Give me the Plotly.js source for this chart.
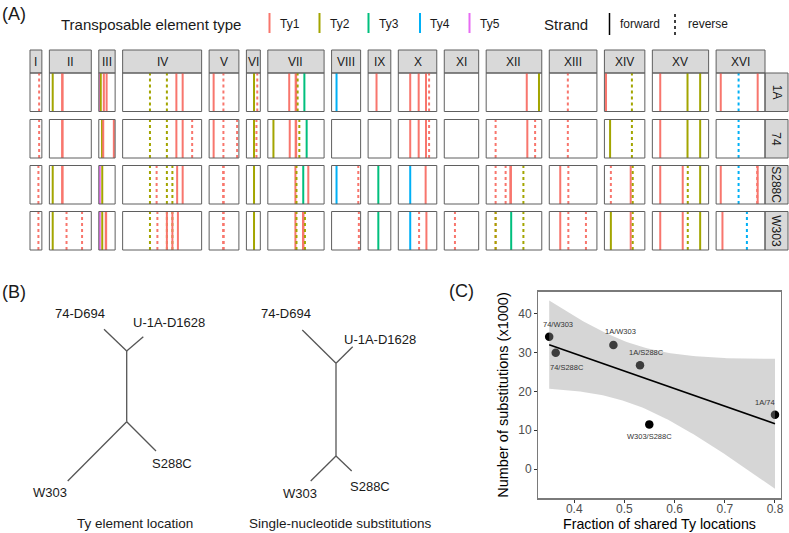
<!DOCTYPE html>
<html><head><meta charset="utf-8">
<script src="https://cdn.plot.ly/plotly-3.0.1.min.js"></script>
<style>body{margin:0;padding:0;background:#fff}#chart{width:789px;height:533px}</style>
</head><body><div id="chart"></div>
<script>
// ---------------- DATA ----------------
const chromosomes = ["I","II","III","IV","V","VI","VII","VIII","IX","X","XI","XII","XIII","XIV","XV","XVI"];
const chromLengthKb = [230,813,317,1532,577,270,1091,563,440,746,667,1078,924,784,1091,948];
const strains = ["1A","74","S288C","W303"];
const tyTypes = ["Ty1","Ty2","Ty3","Ty4","Ty5"];

// [chromosome, Ty type, strand, position (kb)]
const ty_1A = [
 ["I","Ty1","-",177],
 ["II","Ty2","+",65],["II","Ty1","+",248],["II","Ty1","+",256],
 ["III","Ty5","+",19],["III","Ty2","+",38],["III","Ty1","+",98],["III","Ty1","+",152],
 ["IV","Ty2","-",530],["IV","Ty2","-",858],["IV","Ty1","+",1042],["IV","Ty1","+",1164],
 ["V","Ty1","+",87],["V","Ty1","-",277],
 ["VI","Ty2","+",148],["VI","Ty1","-",211],
 ["VII","Ty1","+",415],["VII","Ty1","+",540],["VII","Ty1","+",550],["VII","Ty2","-",578],["VII","Ty3","+",709],
 ["VIII","Ty4","+",96],
 ["IX","Ty1","+",163],
 ["X","Ty1","+",231],["X","Ty1","+",395],["X","Ty1","+",537],["X","Ty1","-",597],
 ["XII","Ty1","+",787],["XII","Ty2","+",1024],
 ["XIII","Ty1","-",360],
 ["XIV","Ty1","+",31],["XIV","Ty2","-",533],
 ["XV","Ty1","+",153],["XV","Ty2","+",682],["XV","Ty2","+",927],
 ["XVI","Ty1","+",90],["XVI","Ty4","-",436],["XVI","Ty1","+",806]
];
const ty_74 = [
 ["I","Ty1","-",177],
 ["II","Ty1","+",248],["II","Ty1","+",256],
 ["III","Ty2","+",63],["III","Ty1","+",86],["III","Ty1","+",292],
 ["IV","Ty2","-",530],["IV","Ty2","-",858],["IV","Ty1","+",1042],["IV","Ty1","+",1164],["IV","Ty1","-",1348],
 ["V","Ty1","+",87],["V","Ty1","-",277],["V","Ty1","-",542],
 ["VI","Ty2","+",148],["VI","Ty1","-",195],
 ["VII","Ty2","+",109],["VII","Ty1","+",425],["VII","Ty1","+",540],["VII","Ty1","+",550],["VII","Ty2","-",611],["VII","Ty3","+",753],
 ["X","Ty1","+",231],["X","Ty1","+",395],["X","Ty1","+",537],["X","Ty1","-",597],
 ["XII","Ty1","-",183],["XII","Ty1","+",798],["XII","Ty1","-",949],
 ["XIII","Ty1","-",360],
 ["XIV","Ty2","+",110],["XIV","Ty2","-",533],
 ["XV","Ty1","+",153],["XV","Ty2","+",682],["XV","Ty2","+",927],
 ["XVI","Ty4","-",436]
];
const ty_S288C = [
 ["I","Ty1","-",163],
 ["II","Ty2","+",65],["II","Ty1","+",248],["II","Ty1","+",256],
 ["III","Ty5","+",19],["III","Ty2","+",67],
 ["IV","Ty2","-",530],["IV","Ty1","-",659],["IV","Ty2","-",858],["IV","Ty2","-",965],["IV","Ty1","+",1057],["IV","Ty1","+",1164],
 ["V","Ty1","-",272],["V","Ty1","-",282],
 ["VI","Ty2","+",148],
 ["VII","Ty1","+",535],["VII","Ty2","-",556],["VII","Ty3","+",687],["VII","Ty1","+",785],
 ["VIII","Ty4","+",96],["VIII","Ty1","-",518],
 ["IX","Ty3","+",198],
 ["X","Ty4","+",231],["X","Ty1","+",530],
 ["XII","Ty1","-",183],["XII","Ty1","-",377],["XII","Ty1","+",469],["XII","Ty1","+",480],["XII","Ty2","-",722],
 ["XIII","Ty1","+",213],["XIII","Ty1","-",370],
 ["XIV","Ty1","-",125],["XIV","Ty1","+",510],["XIV","Ty2","-",549],
 ["XV","Ty1","+",153],["XV","Ty1","+",589],["XV","Ty2","-",687],["XV","Ty2","+",927],
 ["XVI","Ty1","+",90],["XVI","Ty4","-",436],["XVI","Ty1","-",796],["XVI","Ty1","+",806]
];
const ty_W303 = [
 ["I","Ty1","-",163],
 ["II","Ty2","+",65],["II","Ty1","-",333],["II","Ty1","-",634],
 ["III","Ty5","+",19],["III","Ty2","+",67],["III","Ty1","+",135],["III","Ty1","+",143],
 ["IV","Ty2","-",530],["IV","Ty1","-",674],["IV","Ty1","+",858],["IV","Ty2","-",858],["IV","Ty1","+",965],["IV","Ty2","-",965],["IV","Ty1","+",1072],
 ["V","Ty1","-",272],["V","Ty1","-",282],
 ["VI","Ty2","+",148],
 ["VII","Ty1","+",535],["VII","Ty2","-",556],["VII","Ty1","+",682],["VII","Ty1","+",692],["VII","Ty2","-",720],
 ["VIII","Ty1","-",529],
 ["IX","Ty3","+",198],
 ["X","Ty4","+",231],["X","Ty1","-",403],["X","Ty1","+",545],
 ["XI","Ty1","-",207],
 ["XII","Ty1","-",183],["XII","Ty2","-",183],["XII","Ty3","+",485],["XII","Ty2","-",722],
 ["XIII","Ty1","+",213],["XIII","Ty1","-",370],["XIII","Ty1","-",711],
 ["XIV","Ty2","+",125],["XIV","Ty1","+",510],["XIV","Ty2","-",549],
 ["XV","Ty1","+",153],["XV","Ty1","+",589],["XV","Ty2","-",687],["XV","Ty2","+",927],
 ["XVI","Ty1","+",123],["XVI","Ty4","-",597]
];
const tyByStrain = [ty_1A, ty_74, ty_S288C, ty_W303];

// Panel B: unrooted trees (layout coordinates of nodes)
const treeTips = ["74-D694","U-1A-D1628","S288C","W303"];
const treeTyTipX = [104,143.3,156,67.7];
const treeTyTipY = [329.3,336.7,451,481];
const treeTyInnerX = [126.7,126.7];
const treeTyInnerY = [351,421.7];
const treeSnpTipX = [302.3,352.7,351.7,310.7];
const treeSnpTipY = [330,346.7,471,481];
const treeSnpInnerX = [336,336];
const treeSnpInnerY = [363.3,456];
// tips 0,1 attach to inner node 0; tips 2,3 attach to inner node 1
const treeTipParent = [0,0,1,1];

// Panel C
const pairLabels = ["74/W303","74/S288C","1A/W303","1A/S288C","W303/S288C","1A/74"];
const sharedTyFraction = [0.350,0.363,0.478,0.531,0.5495,0.800];
const substitutionsK = [34.0,29.9,31.9,26.7,11.5,14.0];

// ---------------- STYLE / LAYOUT ----------------
const W = 789, H = 533;
const FONT = "Liberation Sans, Arial, Helvetica, sans-serif";
const tyColor = {Ty1:"#F8766D",Ty2:"#A3A500",Ty3:"#00BF7D",Ty4:"#00B0F6",Ty5:"#E76BF3"};
const px = x => x / W, py = y => 1 - y / H;

const gridLeft = 30, gridRight = 765, gap = 7.5;
const headerTop = 50, headerBottom = 73;
const rowTops = [73, 119.5, 165.5, 211.5], rowH = 38.5;
const totalKb = chromLengthKb.reduce((a,b)=>a+b,0);
const kbPx = (gridRight - gridLeft - gap*(chromosomes.length-1)) / totalKb;

const layout = {
  width: W, height: H, margin:{l:0,r:0,t:0,b:0,pad:0},
  paper_bgcolor:"#fff", plot_bgcolor:"rgba(0,0,0,0)",
  showlegend:false, font:{family:FONT, color:"#1a1a1a"},
  shapes:[], annotations:[]
};
const data = [];
const hiddenAxis = (dom, rng, anchor) => ({domain:dom, range:rng, anchor:anchor, visible:false, showgrid:false, zeroline:false, fixedrange:true});

const colX = [];
let cx = gridLeft;
chromosomes.forEach((c,i)=>{
  const w = chromLengthKb[i]*kbPx;
  colX.push([cx, cx+w]);
  const key = i===0 ? "xaxis" : "xaxis"+(i+1);
  layout[key] = hiddenAxis([px(cx), px(cx+w)], [0, chromLengthKb[i]], "y");
  layout.shapes.push({type:"rect", xref:"paper", yref:"paper", x0:px(cx), x1:px(cx+w), y0:py(headerBottom), y1:py(headerTop),
    fillcolor:"#D9D9D9", line:{color:"#5f5f5f", width:1}, layer:"below"});
  layout.annotations.push({xref:"paper", yref:"paper", x:px(cx+w/2), y:py((headerTop+headerBottom)/2), text:c, showarrow:false,
    font:{size:12, color:"#1a1a1a"}, xanchor:"center", yanchor:"middle"});
  cx += w + gap;
});
strains.forEach((s,j)=>{
  const key = j===0 ? "yaxis" : "yaxis"+(j+1);
  layout[key] = hiddenAxis([py(rowTops[j]+rowH), py(rowTops[j])], [0,1], "x");
  layout.shapes.push({type:"rect", xref:"paper", yref:"paper", x0:px(gridRight), x1:px(788), y0:py(rowTops[j]+rowH), y1:py(rowTops[j]),
    fillcolor:"#D9D9D9", line:{color:"#5f5f5f", width:1}, layer:"below"});
  layout.annotations.push({xref:"paper", yref:"paper", x:px((gridRight+788)/2), y:py(rowTops[j]+rowH/2), text:s, showarrow:false,
    textangle:90, font:{size:12, color:"#1a1a1a"}, xanchor:"center", yanchor:"middle"});
  colX.forEach(([a,b])=>{
    layout.shapes.push({type:"rect", xref:"paper", yref:"paper", x0:px(a), x1:px(b), y0:py(rowTops[j]+rowH), y1:py(rowTops[j]),
      fillcolor:"rgba(0,0,0,0)", line:{color:"#5f5f5f", width:1}, layer:"above"});
  });
});

// Ty element lines
tyByStrain.forEach((list,j)=>{
  const groups = {};
  list.forEach(([chr,type,strand,pos])=>{
    const ci = chromosomes.indexOf(chr);
    const k = ci+"|"+type+"|"+strand;
    (groups[k] = groups[k] || []).push(pos);
  });
  Object.keys(groups).forEach(k=>{
    const [ci,type,strand] = k.split("|");
    const xs=[], ys=[];
    groups[k].forEach(p=>{ xs.push(p,p,null); ys.push(0,1,null); });
    const i = +ci;
    data.push({type:"scatter", mode:"lines", x:xs, y:ys,
      xaxis: i===0?"x":"x"+(i+1), yaxis: j===0?"y":"y"+(j+1),
      line:{color:tyColor[type], width:2, dash: strand==="+" ? "solid" : "3px,3px"},
      hoverinfo:"skip"});
  });
});

// Legend of panel A
const ann = (x,y,text,size,extra) => layout.annotations.push(Object.assign({xref:"paper", yref:"paper", x:px(x), y:py(y), text:text,
  showarrow:false, xanchor:"left", yanchor:"middle", font:{size:size, color:"#1a1a1a"}}, extra||{}));
ann(0,14,"(A)",18);
ann(59,24,"Transposable element type",15);
const legKeyX = [269.5,319.5,368.5,420,469.5];
tyTypes.forEach((t,i)=>{
  layout.shapes.push({type:"line", xref:"paper", yref:"paper", x0:px(legKeyX[i]), x1:px(legKeyX[i]), y0:py(33), y1:py(13),
    line:{color:tyColor[t], width:2}});
  ann(legKeyX[i]+8,24,t,12);
});
ann(542,24,"Strand",15);
layout.shapes.push({type:"line", xref:"paper", yref:"paper", x0:px(609.5), x1:px(609.5), y0:py(35), y1:py(13), line:{color:"#000", width:1.5}});
ann(618,24,"forward",12);
layout.shapes.push({type:"line", xref:"paper", yref:"paper", x0:px(675), x1:px(675), y0:py(35), y1:py(13), line:{color:"#000", width:1.5, dash:"3px,3px"}});
ann(686,24,"reverse",12);

// ---------------- Panel B ----------------
ann(0,292,"(B)",18);
layout.xaxis17 = hiddenAxis([0,1],[0,W],"y5");
layout.yaxis5 = hiddenAxis([0,1],[H,0],"x17");
function drawTree(tx,ty,ix,iy,labelOffsets){
  const xs=[], ys=[];
  treeTipParent.forEach((p,i)=>{ xs.push(ix[p],tx[i],null); ys.push(iy[p],ty[i],null); });
  xs.push(ix[0],ix[1]); ys.push(iy[0],iy[1]);
  data.push({type:"scatter", mode:"lines", x:xs, y:ys, xaxis:"x17", yaxis:"y5",
    line:{color:"#555", width:1.3}, hoverinfo:"skip"});
  treeTips.forEach((t,i)=>{
    layout.annotations.push({xref:"x17", yref:"y5", x:tx[i], y:ty[i], text:t, showarrow:false,
      xshift:labelOffsets[i][0], yshift:-labelOffsets[i][1], font:{size:13, color:"#1a1a1a"}, xanchor:"center", yanchor:"middle"});
  });
}
drawTree(treeTyTipX,treeTyTipY,treeTyInnerX,treeTyInnerY,[[-24,-16],[26,-14],[16,12],[-18,11]]);
drawTree(treeSnpTipX,treeSnpTipY,treeSnpInnerX,treeSnpInnerY,[[-16,-17],[27,-7],[18,15],[-11,12]]);
layout.annotations.push({xref:"paper", yref:"paper", x:px(135), y:py(523), text:"Ty element location", showarrow:false,
  font:{size:13.5,color:"#1a1a1a"}, xanchor:"center", yanchor:"middle"});
layout.annotations.push({xref:"paper", yref:"paper", x:px(340), y:py(523), text:"Single-nucleotide substitutions", showarrow:false,
  font:{size:13.5,color:"#1a1a1a"}, xanchor:"center", yanchor:"middle"});

// ---------------- Panel C ----------------
ann(447,291,"(C)",18);
const cL=538.3, cR=780.7, cT=291.7, cB=498.3;
layout.xaxis18 = {domain:[px(cL),px(cR)], range:[0.3283,0.8114], anchor:"y6", showline:true, mirror:true, linecolor:"#7a7a7a", linewidth:1.3,
  showgrid:false, zeroline:false, ticks:"outside", ticklen:3, tickcolor:"#333", ticklabelstandoff:-4,
  tickvals:[0.4,0.5,0.6,0.7,0.8], ticktext:["0.4","0.5","0.6","0.7","0.8"],
  tickfont:{size:12,color:"#4d4d4d"}, title:{text:"Fraction of shared Ty locations", font:{size:14.2,color:"#000"}, standoff:3}, fixedrange:true};
layout.yaxis6 = {domain:[py(cB),py(cT)], range:[-7.5,45.6], anchor:"x18", showline:true, mirror:true, linecolor:"#7a7a7a", linewidth:1.3,
  showgrid:false, zeroline:false, ticks:"outside", ticklen:3, tickcolor:"#333", tickvals:[0,10,20,30,40],
  tickfont:{size:12,color:"#4d4d4d"}, title:{text:"Number of substitutions (x1000)", font:{size:14.5,color:"#000"}, standoff:6}, fixedrange:true};

// points first (band drawn over them as in the reference)
data.push({type:"scatter", mode:"markers", x:sharedTyFraction, y:substitutionsK, xaxis:"x18", yaxis:"y6",
  marker:{color:"#000", size:8.5}, hoverinfo:"skip", cliponaxis:false});

// linear fit with 95% confidence band
const n = sharedTyFraction.length;
const mx = sharedTyFraction.reduce((a,b)=>a+b,0)/n, my = substitutionsK.reduce((a,b)=>a+b,0)/n;
let sxx=0, sxy=0;
for(let i=0;i<n;i++){ sxx += (sharedTyFraction[i]-mx)**2; sxy += (sharedTyFraction[i]-mx)*(substitutionsK[i]-my); }
const slope = sxy/sxx, icpt = my - slope*mx;
let sse=0; for(let i=0;i<n;i++){ sse += (substitutionsK[i]-(icpt+slope*sharedTyFraction[i]))**2; }
const s = Math.sqrt(sse/(n-2));
const tq = {1:12.706,2:4.303,3:3.182,4:2.776,5:2.571,6:2.447}[n-2] || 1.96;
const xmin = Math.min(...sharedTyFraction), xmax = Math.max(...sharedTyFraction);
const fx=[], fy=[], up=[], lo=[];
for(let k=0;k<=80;k++){
  const x = xmin + (xmax-xmin)*k/80;
  const yh = icpt + slope*x;
  const se = s*Math.sqrt(1/n + (x-mx)**2/sxx);
  fx.push(x); fy.push(yh); up.push(yh+tq*se); lo.push(yh-tq*se);
}
data.push({type:"scatter", mode:"lines", x:fx.concat(fx.slice().reverse()), y:up.concat(lo.slice().reverse()), xaxis:"x18", yaxis:"y6",
  fill:"toself", fillcolor:"rgba(153,153,153,0.4)", line:{width:0}, hoverinfo:"skip"});
data.push({type:"scatter", mode:"lines", x:fx, y:fy, xaxis:"x18", yaxis:"y6", line:{color:"#000", width:1.6}, hoverinfo:"skip"});

const labelShift = [[9,12],[11,-15],[7,14],[6,13],[0,-12],[-10,12]];
pairLabels.forEach((t,i)=>{
  layout.annotations.push({xref:"x18", yref:"y6", x:sharedTyFraction[i], y:substitutionsK[i], text:t, showarrow:false,
    xshift:labelShift[i][0], yshift:labelShift[i][1], font:{size:7.5,color:"#333"}, xanchor:"center", yanchor:"middle"});
});

Plotly.newPlot("chart", data, layout, {staticPlot:true, displayModeBar:false});
</script></body></html>
